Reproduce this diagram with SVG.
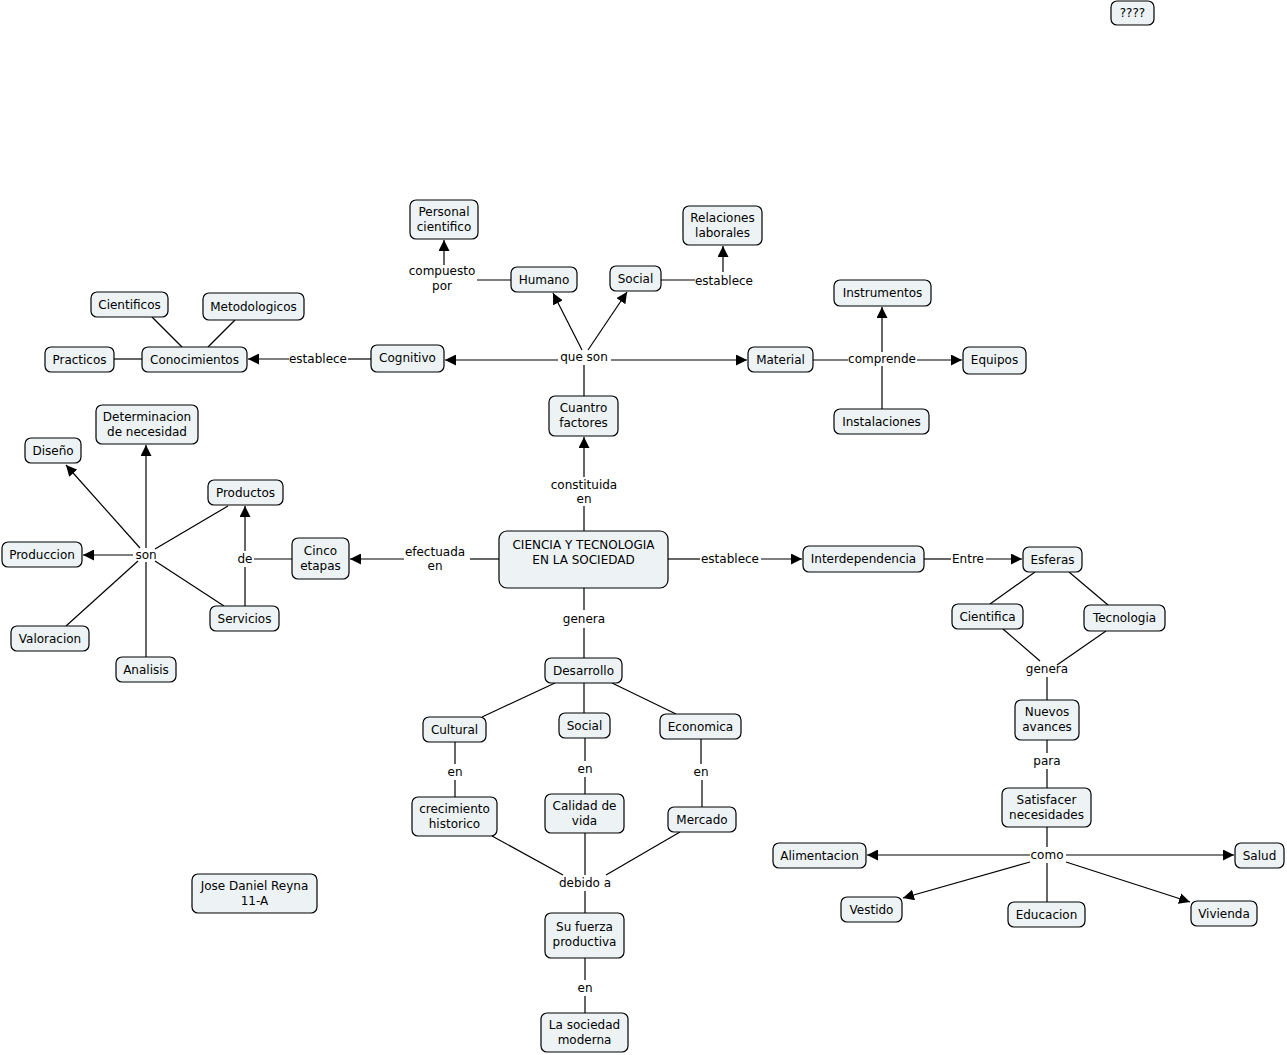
<svg xmlns="http://www.w3.org/2000/svg" width="1287" height="1055" viewBox="0 0 1287 1055">
<defs>
<style>
.n rect{fill:#edf3f5;stroke:#000;stroke-width:1.2}
text{font-family:"DejaVu Sans",Verdana,sans-serif;font-size:12px;fill:#000;text-anchor:middle}
.c line{stroke:#000;stroke-width:1.2}
.c .a{marker-end:url(#ah)}
</style>
<marker id="ah" viewBox="0 0 10 10" refX="10" refY="5" markerWidth="11" markerHeight="11" markerUnits="userSpaceOnUse" orient="auto"><path d="M0,0 L10,5 L0,10 z" fill="#000"/></marker>
</defs>
<rect width="1287" height="1055" fill="#fff"/>
<g class="c" id="connectors">
<!-- center up -->
<line class="a" x1="584" y1="477" x2="584" y2="437"/>
<line x1="584" y1="531" x2="584" y2="506"/>
<line x1="584" y1="396" x2="584" y2="365"/>
<line class="a" x1="558" y1="360" x2="445" y2="360"/>
<line class="a" x1="611" y1="360" x2="747" y2="360"/>
<line class="a" x1="582" y1="350" x2="553" y2="293"/>
<line class="a" x1="588" y1="350" x2="627" y2="292"/>
<line x1="511" y1="280" x2="477" y2="280"/>
<line class="a" x1="444" y1="265" x2="444" y2="240"/>
<line x1="661" y1="280" x2="695" y2="280"/>
<line class="a" x1="723" y1="272" x2="723" y2="246"/>
<line x1="371" y1="359" x2="348" y2="359"/>
<line class="a" x1="289" y1="359" x2="248" y2="359"/>
<line x1="142" y1="359" x2="114" y2="359"/>
<line x1="182" y1="347" x2="152" y2="317"/>
<line x1="208" y1="347" x2="235" y2="320"/>
<line x1="813" y1="360" x2="848" y2="360"/>
<line class="a" x1="917" y1="360" x2="962" y2="360"/>
<line class="a" x1="882" y1="352" x2="882" y2="307"/>
<line x1="882" y1="409" x2="882" y2="366"/>
<!-- left -->
<line x1="499" y1="559" x2="470" y2="559"/>
<line class="a" x1="404" y1="559" x2="350" y2="559"/>
<line x1="292" y1="559" x2="254" y2="559"/>
<line class="a" x1="245" y1="551" x2="245" y2="506"/>
<line x1="245" y1="567" x2="245" y2="606"/>
<line x1="228" y1="506" x2="155" y2="549"/>
<line x1="224" y1="606" x2="155" y2="561"/>
<line class="a" x1="146" y1="548" x2="146" y2="445"/>
<line class="a" x1="140" y1="548" x2="66" y2="465"/>
<line class="a" x1="133" y1="555" x2="83" y2="555"/>
<line x1="138" y1="561" x2="66" y2="626"/>
<line x1="146" y1="562" x2="146" y2="657"/>
<!-- right -->
<line x1="668" y1="559" x2="700" y2="559"/>
<line class="a" x1="761" y1="559" x2="802" y2="559"/>
<line x1="924" y1="559" x2="951" y2="559"/>
<line class="a" x1="986" y1="559" x2="1022" y2="559"/>
<line x1="1035" y1="572" x2="990" y2="604"/>
<line x1="1069" y1="572" x2="1108" y2="605"/>
<line x1="1003" y1="629" x2="1040" y2="661"/>
<line x1="1106" y1="631" x2="1057" y2="665"/>
<line x1="1047" y1="677" x2="1047" y2="700"/>
<line x1="1047" y1="740" x2="1047" y2="753"/>
<line x1="1047" y1="769" x2="1047" y2="788"/>
<line x1="1047" y1="827" x2="1047" y2="847"/>
<line class="a" x1="1030" y1="855" x2="867" y2="855"/>
<line class="a" x1="1066" y1="855" x2="1234" y2="855"/>
<line class="a" x1="1030" y1="862" x2="903" y2="898"/>
<line x1="1047" y1="863" x2="1047" y2="902"/>
<line class="a" x1="1066" y1="862" x2="1190" y2="902"/>
<!-- bottom -->
<line x1="584" y1="588" x2="584" y2="610"/>
<line x1="584" y1="628" x2="584" y2="658"/>
<line x1="555" y1="683" x2="482" y2="717"/>
<line x1="584" y1="683" x2="584" y2="713"/>
<line x1="612" y1="683" x2="676" y2="714"/>
<line x1="455" y1="742" x2="455" y2="764"/>
<line x1="455" y1="780" x2="455" y2="797"/>
<line x1="585" y1="738" x2="585" y2="761"/>
<line x1="585" y1="777" x2="585" y2="794"/>
<line x1="701" y1="739" x2="701" y2="764"/>
<line x1="702" y1="780" x2="702" y2="807"/>
<line x1="492" y1="836" x2="563" y2="875"/>
<line x1="585" y1="833" x2="585" y2="875"/>
<line x1="680" y1="832" x2="606" y2="875"/>
<line x1="585" y1="891" x2="585" y2="913"/>
<line x1="585" y1="958" x2="585" y2="980"/>
<line x1="585" y1="996" x2="585" y2="1013"/>
</g>
<g id="labels">
<text x="442" y="275">compuesto</text><text x="442" y="290">por</text>
<text x="724" y="285">establece</text>
<text x="584" y="361">que son</text>
<text x="318" y="363">establece</text>
<text x="882" y="363">comprende</text>
<text x="584" y="489">constituida</text><text x="584" y="503">en</text>
<text x="435" y="556">efectuada</text><text x="435" y="570">en</text>
<text x="730" y="563">establece</text>
<text x="968" y="563">Entre</text>
<text x="146" y="559">son</text>
<text x="245" y="563">de</text>
<text x="584" y="623">genera</text>
<text x="1047" y="673">genera</text>
<text x="455" y="776">en</text>
<text x="585" y="773">en</text>
<text x="701" y="776">en</text>
<text x="1047" y="765">para</text>
<text x="1047" y="859">como</text>
<text x="585" y="887">debido a</text>
<text x="585" y="992">en</text>
</g>
<g class="n" id="n-unk"><rect x="1111" y="1" width="43" height="24" rx="6"/><text x="1132.5" y="17">????</text></g>
<g class="n" id="n-personal"><rect x="410" y="200" width="68" height="39" rx="6"/><text x="444" y="216">Personal</text><text x="444" y="231">cientifico</text></g>
<g class="n" id="n-relaciones"><rect x="683" y="206" width="79" height="39" rx="6"/><text x="722.5" y="222">Relaciones</text><text x="722.5" y="237">laborales</text></g>
<g class="n" id="n-humano"><rect x="511" y="267" width="66" height="25" rx="6"/><text x="544" y="284">Humano</text></g>
<g class="n" id="n-social1"><rect x="610" y="266" width="51" height="25" rx="6"/><text x="635.5" y="283">Social</text></g>
<g class="n" id="n-cientificos"><rect x="91" y="292" width="77" height="25" rx="6"/><text x="129.5" y="309">Cientificos</text></g>
<g class="n" id="n-metodologicos"><rect x="203" y="293" width="101" height="27" rx="6"/><text x="253.5" y="311">Metodologicos</text></g>
<g class="n" id="n-instrumentos"><rect x="834" y="280" width="97" height="26" rx="6"/><text x="882.5" y="297">Instrumentos</text></g>
<g class="n" id="n-practicos"><rect x="45" y="347" width="69" height="25" rx="6"/><text x="79.5" y="364">Practicos</text></g>
<g class="n" id="n-conocimientos"><rect x="142" y="347" width="105" height="25" rx="6"/><text x="194.5" y="364">Conocimientos</text></g>
<g class="n" id="n-cognitivo"><rect x="371" y="345" width="73" height="27" rx="6"/><text x="407.5" y="362">Cognitivo</text></g>
<g class="n" id="n-material"><rect x="748" y="347" width="65" height="25" rx="6"/><text x="780.5" y="364">Material</text></g>
<g class="n" id="n-equipos"><rect x="963" y="347" width="63" height="27" rx="6"/><text x="994.5" y="364">Equipos</text></g>
<g class="n" id="n-cuantro"><rect x="549" y="396" width="69" height="40" rx="6"/><text x="583.5" y="412">Cuantro</text><text x="583.5" y="427">factores</text></g>
<g class="n" id="n-instalaciones"><rect x="834" y="409" width="95" height="25" rx="6"/><text x="881.5" y="426">Instalaciones</text></g>
<g class="n" id="n-determinacion"><rect x="96" y="405" width="102" height="39" rx="6"/><text x="147" y="421">Determinacion</text><text x="147" y="436">de necesidad</text></g>
<g class="n" id="n-diseno"><rect x="25" y="438" width="56" height="25" rx="6"/><text x="53" y="455">Diseño</text></g>
<g class="n" id="n-productos"><rect x="208" y="480" width="75" height="25" rx="6"/><text x="245.5" y="497">Productos</text></g>
<g class="n" id="n-produccion"><rect x="2" y="542" width="80" height="25" rx="6"/><text x="42" y="559">Produccion</text></g>
<g class="n" id="n-cinco"><rect x="292" y="538" width="57" height="41" rx="6"/><text x="320.5" y="555">Cinco</text><text x="320.5" y="570">etapas</text></g>
<g class="n" id="n-ciencia"><rect x="499" y="531" width="169" height="57" rx="8"/><text x="583.5" y="549">CIENCIA Y TECNOLOGIA</text><text x="583.5" y="564">EN LA SOCIEDAD</text></g>
<g class="n" id="n-interdependencia"><rect x="803" y="546" width="121" height="26" rx="6"/><text x="863.5" y="563">Interdependencia</text></g>
<g class="n" id="n-esferas"><rect x="1023" y="547" width="59" height="25" rx="6"/><text x="1052.5" y="564">Esferas</text></g>
<g class="n" id="n-cientifica"><rect x="952" y="604" width="71" height="25" rx="6"/><text x="987.5" y="621">Cientifica</text></g>
<g class="n" id="n-tecnologia"><rect x="1084" y="605" width="81" height="26" rx="6"/><text x="1124.5" y="622">Tecnologia</text></g>
<g class="n" id="n-servicios"><rect x="210" y="606" width="69" height="25" rx="6"/><text x="244.5" y="623">Servicios</text></g>
<g class="n" id="n-valoracion"><rect x="11" y="626" width="78" height="25" rx="6"/><text x="50" y="643">Valoracion</text></g>
<g class="n" id="n-analisis"><rect x="116" y="657" width="60" height="25" rx="6"/><text x="146" y="674">Analisis</text></g>
<g class="n" id="n-desarrollo"><rect x="545" y="658" width="77" height="25" rx="6"/><text x="583.5" y="675">Desarrollo</text></g>
<g class="n" id="n-nuevos"><rect x="1015" y="700" width="64" height="40" rx="6"/><text x="1047" y="716">Nuevos</text><text x="1047" y="731">avances</text></g>
<g class="n" id="n-cultural"><rect x="423" y="717" width="63" height="25" rx="6"/><text x="454.5" y="734">Cultural</text></g>
<g class="n" id="n-social2"><rect x="559" y="713" width="51" height="25" rx="6"/><text x="584.5" y="730">Social</text></g>
<g class="n" id="n-economica"><rect x="660" y="714" width="81" height="25" rx="6"/><text x="700.5" y="731">Economica</text></g>
<g class="n" id="n-satisfacer"><rect x="1002" y="788" width="89" height="39" rx="6"/><text x="1046.5" y="804">Satisfacer</text><text x="1046.5" y="819">necesidades</text></g>
<g class="n" id="n-crecimiento"><rect x="412" y="797" width="85" height="39" rx="6"/><text x="454.5" y="813">crecimiento</text><text x="454.5" y="828">historico</text></g>
<g class="n" id="n-calidad"><rect x="545" y="794" width="79" height="39" rx="6"/><text x="584.5" y="810">Calidad de</text><text x="584.5" y="825">vida</text></g>
<g class="n" id="n-mercado"><rect x="668" y="807" width="68" height="25" rx="6"/><text x="702" y="824">Mercado</text></g>
<g class="n" id="n-alimentacion"><rect x="773" y="843" width="93" height="25" rx="6"/><text x="819.5" y="860">Alimentacion</text></g>
<g class="n" id="n-salud"><rect x="1235" y="843" width="49" height="25" rx="6"/><text x="1259.5" y="860">Salud</text></g>
<g class="n" id="n-jose"><rect x="192" y="874" width="125" height="39" rx="6"/><text x="254.5" y="890">Jose Daniel Reyna</text><text x="254.5" y="905">11-A</text></g>
<g class="n" id="n-vestido"><rect x="841" y="897" width="61" height="25" rx="6"/><text x="871.5" y="914">Vestido</text></g>
<g class="n" id="n-educacion"><rect x="1008" y="902" width="77" height="25" rx="6"/><text x="1046.5" y="919">Educacion</text></g>
<g class="n" id="n-vivienda"><rect x="1191" y="901" width="66" height="25" rx="6"/><text x="1224" y="918">Vivienda</text></g>
<g class="n" id="n-fuerza"><rect x="545" y="913" width="79" height="45" rx="6"/><text x="584.5" y="931">Su fuerza</text><text x="584.5" y="946">productiva</text></g>
<g class="n" id="n-sociedad"><rect x="541" y="1013" width="87" height="39" rx="6"/><text x="584.5" y="1029">La sociedad</text><text x="584.5" y="1044">moderna</text></g>
</svg>
